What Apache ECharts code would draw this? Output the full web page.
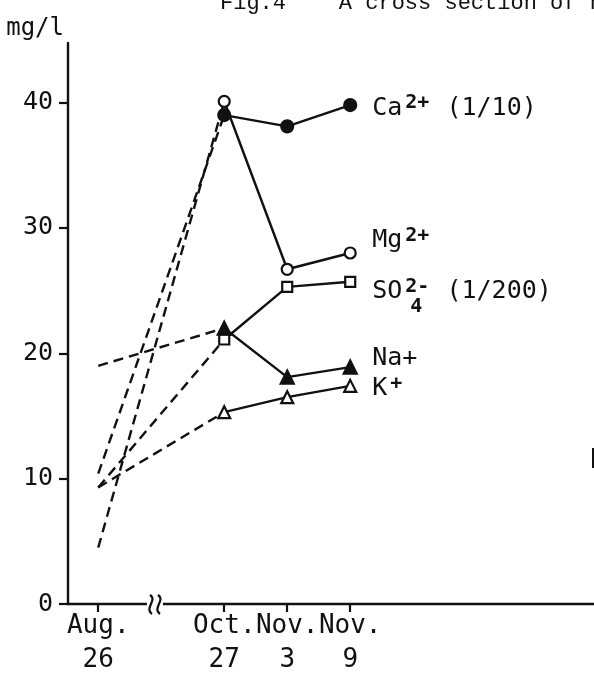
<!DOCTYPE html>
<html><head><meta charset="utf-8">
<script src="https://cdn.jsdelivr.net/npm/echarts@6/dist/echarts.min.js"></script>
<style>html,body{margin:0;padding:0;background:#fff}#c{width:594px;height:685px}</style>
</head><body><div id="c"></div>
<script>
// Broken date axis: positions of the sampling dates (gap between Aug and Oct compressed)
const dateLabels = ['Aug.\n26', 'Oct.\n27', 'Nov.\n3', 'Nov.\n9'];
const xPos = [0, 2, 3, 4];
const breakPos = 0.9;
const yTicks = [0, 10, 20, 30, 40];
// concentrations, mg/l (Ca x1/10, SO4 x1/200 as in the figure)
const ca  = [10.4, 39.0, 38.1, 39.8];
const mg  = [4.5, 40.1, 26.7, 28.0];
const so4 = [9.3, 21.1, 25.3, 25.7];
const na  = [19.0, 22.0, 18.1, 18.9];
const k   = [9.3, 15.3, 16.5, 17.4];

const INK = '#111';
const FONT = 'DejaVu Sans Mono';
const chart = echarts.init(document.getElementById('c'), null, {renderer: 'canvas'});

function pts(vals, from, to) {
  const out = [];
  for (let i = from; i <= to; i++) out.push([xPos[i], vals[i]]);
  return out;
}
const rich = {
  b:   {fontFamily: FONT, fontSize: 25, color: INK, lineHeight: 30},
  sup: {fontFamily: FONT, fontSize: 20, fontWeight: 'bold', color: INK, verticalAlign: 'top', lineHeight: 14, padding: [0, 2, 0, 3]}
};
function dashed(vals) {
  return {type: 'line', data: pts(vals, 0, 1), symbol: 'none', silent: true, z: 2,
    lineStyle: {color: INK, width: 2.4, type: [10, 6]}};
}
function solid(vals, symbol, filled, size, label, dy, extra) {
  return Object.assign({type: 'line', data: pts(vals, 1, 3), symbol: symbol, symbolSize: size,
    showAllSymbol: true, silent: true, z: 3,
    lineStyle: {color: INK, width: 2.4},
    itemStyle: {color: filled ? INK : '#fff', borderColor: INK, borderWidth: 2.2, opacity: 1},
    endLabel: {show: true, formatter: label, distance: 22, offset: [0, dy], rich: rich, color: INK}
  }, extra || {});
}

chart.setOption({
  animation: false,
  backgroundColor: '#fff',
  grid: {left: 68, right: 0, top: 43, bottom: 81, containLabel: false},
  xAxis: {
    type: 'value', min: -0.48, max: 7.87,
    splitLine: {show: false},
    axisLine: {show: true, onZero: false, lineStyle: {color: INK, width: 2.4}},
    axisTick: {show: true, customValues: xPos, length: 8, lineStyle: {color: INK, width: 2.2}},
    axisLabel: {show: true, customValues: xPos, margin: 5, fontFamily: FONT, fontSize: 26, lineHeight: 34,
      color: INK, formatter: v => dateLabels[xPos.indexOf(v)] || ''}
  },
  yAxis: {
    type: 'value', min: 0, max: 44.75,
    name: 'mg/l', nameLocation: 'end', nameGap: 14,
    nameTextStyle: {fontFamily: FONT, fontSize: 24, color: INK, align: 'right', verticalAlign: 'middle', padding: [0, 4, 0, 0]},
    splitLine: {show: false},
    axisLine: {show: true, onZero: false, lineStyle: {color: INK, width: 2.4}},
    axisTick: {show: true, customValues: yTicks, length: 9, lineStyle: {color: INK, width: 2.2}},
    axisLabel: {show: true, customValues: yTicks, margin: 15, fontFamily: FONT, fontSize: 25, color: INK}
  },
  series: [
    dashed(ca), dashed(mg), dashed(so4), dashed(na), dashed(k),
    solid(ca, 'circle', true, 12, '{b|Ca}{sup|2+}{b| (1/10)}', 3),
    solid(mg, 'circle', false, 11, '{b|Mg}{sup|2+}', -12),
    solid(so4, 'rect', false, 10, '{b|SO}{sup|2-}{b| (1/200)}', 10, {
      markPoint: {symbol: 'circle', symbolSize: 1, itemStyle: {color: 'rgba(0,0,0,0)'}, silent: true,
        label: {show: true, position: 'inside', formatter: '4', offset: [66, 25],
          fontFamily: FONT, fontSize: 20, fontWeight: 'bold', color: INK},
        data: [{coord: [xPos[3], so4[3]]}]}
    }),
    solid(na, 'triangle', true, 13, '{b|Na+}', -9),
    solid(k, 'triangle', false, 12, '{b|K}{sup|+}', 3)
  ]
});

const bp = chart.convertToPixel({gridIndex: 0}, [breakPos, 0]);
const bx = bp[0], by = bp[1];
function squig(cx) {
  return {type: 'bezierCurve', z: 101,
    shape: {x1: cx - 1, y1: by - 9, cpx1: cx + 7, cpy1: by - 4, cpx2: cx - 7, cpy2: by + 4, x2: cx + 1, y2: by + 10},
    style: {fill: 'none', stroke: INK, lineWidth: 2.2}};
}
chart.setOption({
  graphic: [
    {type: 'rect', shape: {x: bx - 8, y: by - 3, width: 16, height: 6}, style: {fill: '#fff'}, z: 100},
    squig(bx - 4), squig(bx + 4),
    {type: 'text', x: 220, y: 3, style: {text: 'Fig.4    A cross section of heat', font: '22px "Liberation Mono"', fill: INK, verticalAlign: 'middle'}, z: 100},
    {type: 'rect', shape: {x: 592, y: 448, width: 2, height: 20}, style: {fill: INK}, z: 100}
  ]
});
</script></body></html>
